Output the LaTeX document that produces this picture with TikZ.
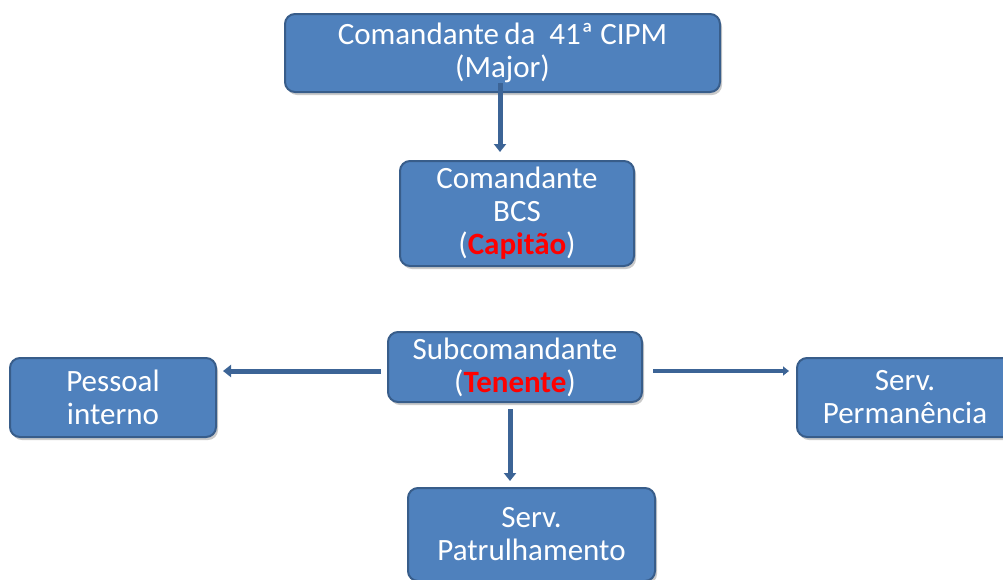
\documentclass[tikz,border=0pt]{standalone}
\usepackage{fontspec}
\setmainfont{Carlito}
\usetikzlibrary{arrows.meta,shadows}
\definecolor{boxfill}{HTML}{4F81BD}
\definecolor{boxline}{HTML}{385D8A}
\definecolor{arrcol}{HTML}{3C6496}
\definecolor{redtxt}{HTML}{FF0000}
\tikzset{
  box/.style={draw=boxline, line width=2pt, fill=boxfill, rounded corners=10pt,
    text=white, align=center, inner sep=0pt,
    font=\fontsize{31}{33}\selectfont,
    drop shadow={opacity=0.35, shadow xshift=2pt, shadow yshift=-3pt, fill=black!60}},
  arr/.style={draw=arrcol, line width=5pt, -{Triangle[width=12pt,length=8pt]}},
  arrthin/.style={draw=arrcol, line width=4.5pt, -{Triangle[width=9pt,length=6pt]}}
}
\begin{document}
\begin{tikzpicture}[x=1pt,y=-1pt]
\useasboundingbox (0,0) rectangle (1003,579);
\clip (0,0) rectangle (1003,579);
\node[box, minimum width=435pt, minimum height=78pt] (cmd) at (502.5,53) {Comandante\,da\ \ 41ª CIPM\\(Major)};
\node[box, minimum width=234pt, minimum height=105pt] (bcs) at (517,213.5) {Comandante\\BCS\\(\textcolor{redtxt}{\textbf{Capitão}})};
\node[box, minimum width=254pt, minimum height=70pt] (sub) at (515,367) {Subcomandante\\(\textcolor{redtxt}{\textbf{Tenente}})};
\node[box, minimum width=206pt, minimum height=79pt] (pi) at (113,397.5) {Pessoal\\interno};
\node[box, minimum width=216pt, minimum height=79pt] (sp) at (905,397.5) {Serv.\\Permanência};
\node[box, minimum width=247pt, minimum height=93pt] (pat) at (531.5,534.5) {Serv.\\Patrulhamento};
% arrows
\draw[arr, shorten <=-10pt, shorten >=8pt] ([xshift=-2.5pt]cmd.south) -- ([xshift=-2.5pt]cmd.south |- bcs.north);
\draw[arr, shorten <=6pt, shorten >=6pt] ([yshift=-4pt]sub.west) -- ([yshift=-4pt]sub.west -| pi.east);
\draw[arrthin, shorten <=10pt, shorten >=7pt] ([yshift=-4pt]sub.east) -- ([yshift=-4pt]sub.east -| sp.west);
\draw[arr, shorten <=6pt, shorten >=6pt] ([xshift=-5pt]sub.south) -- ([xshift=-5pt]sub.south |- pat.north);
\end{tikzpicture}
\end{document}
